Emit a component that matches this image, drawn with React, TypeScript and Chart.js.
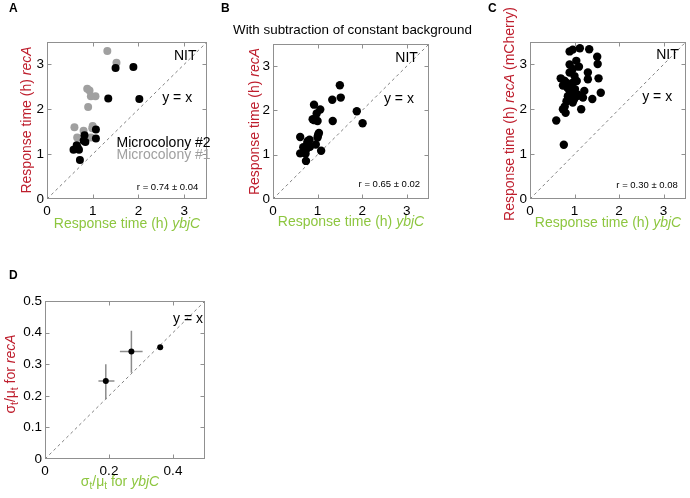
import React, { useEffect, useRef } from 'react';
import { Chart, registerables } from 'chart.js';
Chart.register(...registerables);

const FONT = '"Liberation Sans", Arial, Helvetica, sans-serif';
const RED = '#be1e2d';
const GREEN = '#8dc63f';
const GRAY_PT = '#a0a0a0';
const FRAME = '#909090';

// ---------- Data ----------
// Panel A
const aBlackX = [1.50, 1.89, 1.34, 2.02, 1.07, 0.82, 1.07, 0.84, 0.80, 0.65, 0.58, 0.70, 0.67, 0.72];
const aBlackY = [2.92, 2.94, 2.24, 2.23, 1.55, 1.42, 1.35, 1.27, 1.30, 1.20, 1.10, 1.10, 1.15, 0.87];
const aGrayX = [1.32, 1.52, 0.88, 0.93, 0.96, 1.06, 0.90, 0.60, 0.80, 1.00, 0.99, 0.66, 0.96];
const aGrayY = [3.30, 3.04, 2.46, 2.42, 2.29, 2.29, 2.05, 1.60, 1.52, 1.63, 1.58, 1.37, 1.37];
// Panel B
const bX = [1.50, 1.33, 1.52, 0.92, 1.06, 0.98, 0.89, 1.00, 1.34, 1.88, 2.01, 1.03, 1.01, 1.00, 0.61, 0.82, 0.77, 0.96, 0.68, 0.83, 0.76, 0.61, 0.71, 0.73, 1.08, 0.74, 0.78, 0.93];
const bY = [2.57, 2.24, 2.29, 2.13, 2.02, 1.93, 1.80, 1.76, 1.76, 1.98, 1.71, 1.49, 1.44, 1.39, 1.40, 1.34, 1.27, 1.23, 1.17, 1.18, 1.14, 1.03, 1.07, 1.02, 1.09, 0.86, 1.31, 1.78];
// Panel C
const cX = [0.59, 0.76, 0.89, 0.96, 1.12, 1.33, 1.51, 1.52, 1.54, 1.59, 1.40, 1.15, 1.30, 1.30, 0.69, 0.77, 0.82, 0.74, 0.84, 0.89, 0.96, 1.04, 0.89, 1.10, 1.00, 0.96, 1.05, 0.89, 0.85, 0.93, 1.04, 1.15, 1.22, 1.19, 0.82, 0.96, 0.78, 0.80, 0.74, 0.93, 1.07, 0.99, 0.88, 1.01];
const cY = [1.75, 1.21, 3.29, 3.33, 3.36, 3.34, 3.17, 3.01, 2.69, 2.37, 2.23, 2.00, 2.82, 2.67, 2.69, 2.64, 2.59, 2.53, 2.48, 2.82, 2.90, 3.08, 3.00, 2.95, 2.74, 2.59, 2.63, 2.41, 2.29, 2.26, 2.29, 2.30, 2.41, 2.26, 2.18, 2.15, 2.06, 1.92, 2.00, 2.37, 2.33, 2.22, 2.55, 2.45];
// Panel D
const dX = [0.19, 0.27, 0.36];
const dY = [0.247, 0.340, 0.354];
const dXLow = [0.167, 0.234, 0.36];
const dXHigh = [0.217, 0.305, 0.36];
const dYLow = [0.189, 0.273, 0.354];
const dYHigh = [0.300, 0.406, 0.354];
// Ticks
const respTicks = [0, 1, 2, 3];
const respMax = 3.5;
const dXTicks = [0, 0.2, 0.4];
const dYTicks = [0, 0.1, 0.2, 0.3, 0.4, 0.5];
const dMax = 0.5;

type Seg = { t: string; it?: boolean; sub?: boolean };
type Note = { t: string; x: number; y: number; align: CanvasTextAlign; color?: string; size?: number };
type Label = { t: string; px: number; py: number; size: number; bold?: boolean; align?: CanvasTextAlign };

interface Spec {
  left: number; top: number; W: number; H: number;
  area: { l: number; t: number; r: number; b: number };
  xMax: number; yMax: number; xTicks: number[]; yTicks: number[];
  datasets: any[];
  xTitle: Seg[]; yTitle: Seg[];
  xTitlePos: [number, number]; yTitlePos: [number, number];
  notes: Note[]; labels: Label[];
  errs?: boolean;
}

const pts = (xs: number[], ys: number[]) => xs.map((x, i) => ({ x, y: ys[i] }));

function drawRich(ctx: CanvasRenderingContext2D, segs: Seg[], x: number, y: number, rot: number, color: string, size: number) {
  ctx.save();
  ctx.translate(x, y);
  ctx.rotate(rot);
  const fontOf = (s: Seg) => `${s.it ? 'italic ' : ''}${s.sub ? size * 0.72 : size}px ${FONT}`;
  const widths = segs.map((s) => { ctx.font = fontOf(s); return ctx.measureText(s.t).width; });
  const total = widths.reduce((a, b) => a + b, 0);
  let cx = -total / 2;
  ctx.fillStyle = color;
  ctx.textBaseline = 'middle';
  ctx.textAlign = 'left';
  segs.forEach((s, i) => {
    ctx.font = fontOf(s);
    ctx.fillText(s.t, cx, s.sub ? size * 0.32 : 0);
    cx += widths[i];
  });
  ctx.restore();
}

function makeDeco(spec: Spec) {
  return {
    id: 'deco',
    beforeDatasetsDraw(chart: any) {
      if (!spec.errs) return;
      const ctx = chart.ctx as CanvasRenderingContext2D;
      const xs = chart.scales.x, ys = chart.scales.y;
      ctx.save();
      ctx.strokeStyle = '#8c8c8c';
      ctx.lineWidth = 1.5;
      dX.forEach((x, i) => {
        const px = xs.getPixelForValue(x), py = ys.getPixelForValue(dY[i]);
        ctx.beginPath();
        ctx.moveTo(px, ys.getPixelForValue(dYLow[i]));
        ctx.lineTo(px, ys.getPixelForValue(dYHigh[i]));
        ctx.moveTo(xs.getPixelForValue(dXLow[i]), py);
        ctx.lineTo(xs.getPixelForValue(dXHigh[i]), py);
        ctx.stroke();
      });
      ctx.restore();
    },
    afterDraw(chart: any) {
      const ctx = chart.ctx as CanvasRenderingContext2D;
      const a = chart.chartArea;
      const xs = chart.scales.x, ys = chart.scales.y;
      ctx.save();
      // frame
      ctx.strokeStyle = FRAME;
      ctx.lineWidth = 1;
      const L = Math.round(a.left) + 0.5, R = Math.round(a.right) - 0.5;
      const T = Math.round(a.top) + 0.5, B = Math.round(a.bottom) - 0.5;
      ctx.strokeRect(L, T, R - L, B - T);
      ctx.beginPath();
      spec.xTicks.forEach((v) => {
        if (v <= 0 || v >= spec.xMax) return;
        const px = Math.round(xs.getPixelForValue(v)) + 0.5;
        ctx.moveTo(px, B); ctx.lineTo(px, B - 4);
        ctx.moveTo(px, T); ctx.lineTo(px, T + 4);
      });
      spec.yTicks.forEach((v) => {
        if (v <= 0 || v >= spec.yMax) return;
        const py = Math.round(ys.getPixelForValue(v)) + 0.5;
        ctx.moveTo(L, py); ctx.lineTo(L + 4, py);
        ctx.moveTo(R, py); ctx.lineTo(R - 4, py);
      });
      ctx.stroke();
      // notes in data coords
      spec.notes.forEach((n) => {
        ctx.font = `${n.size ?? 14}px ${FONT}`;
        ctx.fillStyle = n.color ?? '#000';
        ctx.textAlign = n.align;
        ctx.textBaseline = 'middle';
        ctx.fillText(n.t, xs.getPixelForValue(n.x), ys.getPixelForValue(n.y));
      });
      // pixel labels
      spec.labels.forEach((l) => {
        ctx.font = `${l.bold ? 'bold ' : ''}${l.size}px ${FONT}`;
        ctx.fillStyle = '#000';
        ctx.textAlign = l.align ?? 'left';
        ctx.textBaseline = 'middle';
        ctx.fillText(l.t, l.px, l.py);
      });
      // axis titles
      drawRich(ctx, spec.xTitle, spec.xTitlePos[0], spec.xTitlePos[1], 0, GREEN, 14);
      drawRich(ctx, spec.yTitle, spec.yTitlePos[0], spec.yTitlePos[1], -Math.PI / 2, RED, 14);
      ctx.restore();
    },
  };
}

function Panel({ spec }: { spec: Spec }) {
  const ref = useRef<HTMLCanvasElement | null>(null);
  useEffect(() => {
    if (!ref.current) return;
    const { W, H, area } = spec;
    const fmt = (v: any) => String(v);
    const tickFont = { family: FONT, size: 13.5 };
    const chart = new Chart(ref.current, {
      type: 'scatter',
      data: { datasets: spec.datasets },
      options: {
        animation: false,
        responsive: false,
        maintainAspectRatio: false,
        events: [],
        layout: { padding: { left: 0, top: area.t, right: W - area.r, bottom: 0 } },
        plugins: { legend: { display: false }, tooltip: { enabled: false } },
        scales: {
          x: {
            type: 'linear', min: 0, max: spec.xMax,
            afterFit: (s: any) => { s.height = H - area.b; },
            afterBuildTicks: (s: any) => { s.ticks = spec.xTicks.map((v) => ({ value: v })); },
            grid: { display: false, drawTicks: false },
            border: { display: false },
            ticks: { font: tickFont, color: '#000', padding: 4, maxRotation: 0, autoSkip: false, callback: fmt },
          },
          y: {
            type: 'linear', min: 0, max: spec.yMax,
            afterFit: (s: any) => { s.width = area.l; },
            afterBuildTicks: (s: any) => { s.ticks = spec.yTicks.map((v) => ({ value: v })); },
            grid: { display: false, drawTicks: false },
            border: { display: false },
            ticks: { font: tickFont, color: '#000', padding: 3, autoSkip: false, callback: fmt },
          },
        },
      } as any,
      plugins: [makeDeco(spec)],
    });
    return () => chart.destroy();
  }, [spec]);
  return (
    <canvas
      ref={ref}
      width={spec.W}
      height={spec.H}
      style={{ position: 'absolute', left: spec.left, top: spec.top, width: spec.W, height: spec.H }}
    />
  );
}

const diag = (max: number) => ({
  data: [{ x: 0, y: 0 }, { x: max, y: max }],
  showLine: true,
  borderColor: '#808080',
  borderWidth: 1,
  borderDash: [3, 3],
  pointRadius: 0,
  order: 10,
});
const dots = (xs: number[], ys: number[], color: string, r = 4, order = 0) => ({
  data: pts(xs, ys),
  pointRadius: r,
  pointBackgroundColor: color,
  pointBorderWidth: 0,
  backgroundColor: color,
  borderColor: color,
  showLine: false,
  order,
});

const respX: Seg[] = [{ t: 'Response time (h) ' }, { t: 'ybjC', it: true }];
const respY: Seg[] = [{ t: 'Response time (h) ' }, { t: 'recA', it: true }];

const specA: Spec = {
  left: 0, top: 0, W: 215, H: 240,
  area: { l: 47, t: 42, r: 207, b: 199 },
  xMax: respMax, yMax: respMax, xTicks: respTicks, yTicks: respTicks,
  datasets: [dots(aBlackX, aBlackY, '#000', 4, 0), dots(aGrayX, aGrayY, GRAY_PT, 4, 1), diag(respMax)],
  xTitle: respX, yTitle: respY, xTitlePos: [127, 224], yTitlePos: [27, 120],
  notes: [
    { t: 'NIT', x: 3.27, y: 3.18, align: 'right' },
    { t: 'y = x', x: 2.52, y: 2.24, align: 'left' },
    { t: 'Microcolony #2', x: 1.52, y: 1.25, align: 'left' },
    { t: 'Microcolony #1', x: 1.52, y: 0.98, align: 'left', color: GRAY_PT },
    { t: 'r = 0.74 \u00b1 0.04', x: 3.31, y: 0.25, align: 'right', size: 9.5 },
  ],
  labels: [{ t: 'A', px: 9, py: 9, size: 12, bold: true }],
};

const specB: Spec = {
  left: 215, top: 0, W: 265, H: 240,
  area: { l: 58, t: 44, r: 214, b: 199 },
  xMax: respMax, yMax: respMax, xTicks: respTicks, yTicks: respTicks,
  datasets: [dots(bX, bY, '#000', 4.2, 0), diag(respMax)],
  xTitle: respX, yTitle: respY, xTitlePos: [136, 222], yTitlePos: [40, 121.5],
  notes: [
    { t: 'NIT', x: 3.25, y: 3.18, align: 'right' },
    { t: 'y = x', x: 2.49, y: 2.25, align: 'left' },
    { t: 'r = 0.65 \u00b1 0.02', x: 3.30, y: 0.32, align: 'right', size: 9.5 },
  ],
  labels: [
    { t: 'B', px: 6, py: 9, size: 12, bold: true },
    { t: 'With subtraction of constant background', px: 18, py: 30, size: 13.4 },
  ],
};

const specC: Spec = {
  left: 480, top: 0, W: 210, H: 240,
  area: { l: 50, t: 42, r: 207, b: 199 },
  xMax: respMax, yMax: respMax, xTicks: respTicks, yTicks: respTicks,
  datasets: [dots(cX, cY, '#000', 4.2, 0), diag(respMax)],
  xTitle: respX,
  yTitle: [{ t: 'Response time (h) ' }, { t: 'recA', it: true }, { t: ' (mCherry)' }],
  xTitlePos: [128, 223], yTitlePos: [30, 114],
  notes: [
    { t: 'NIT', x: 3.34, y: 3.2, align: 'right' },
    { t: 'y = x', x: 2.52, y: 2.26, align: 'left' },
    { t: 'r = 0.30 \u00b1 0.08', x: 3.32, y: 0.31, align: 'right', size: 9.5 },
  ],
  labels: [{ t: 'C', px: 8, py: 9, size: 12, bold: true }],
};

const specD: Spec = {
  left: 0, top: 250, W: 230, H: 248,
  area: { l: 45, t: 51, r: 205, b: 209 },
  xMax: dMax, yMax: dMax, xTicks: dXTicks, yTicks: dYTicks,
  datasets: [dots(dX, dY, '#000', 3, 0), diag(dMax)],
  xTitle: [{ t: '\u03c3' }, { t: 't', sub: true }, { t: '/\u03bc' }, { t: 't', sub: true }, { t: ' for ' }, { t: 'ybjC', it: true }],
  yTitle: [{ t: '\u03c3' }, { t: 't', sub: true }, { t: '/\u03bc' }, { t: 't', sub: true }, { t: ' for ' }, { t: 'recA', it: true }],
  xTitlePos: [120, 232], yTitlePos: [11, 124],
  notes: [{ t: 'y = x', x: 0.40, y: 0.443, align: 'left' }],
  labels: [{ t: 'D', px: 9, py: 26, size: 12, bold: true }],
  errs: true,
};

export default function App() {
  return (
    <div style={{ position: 'absolute', left: 0, top: 0, width: 690, height: 498, background: '#fff', overflow: 'hidden' }}>
      <Panel spec={specA} />
      <Panel spec={specB} />
      <Panel spec={specC} />
      <Panel spec={specD} />
    </div>
  );
}
